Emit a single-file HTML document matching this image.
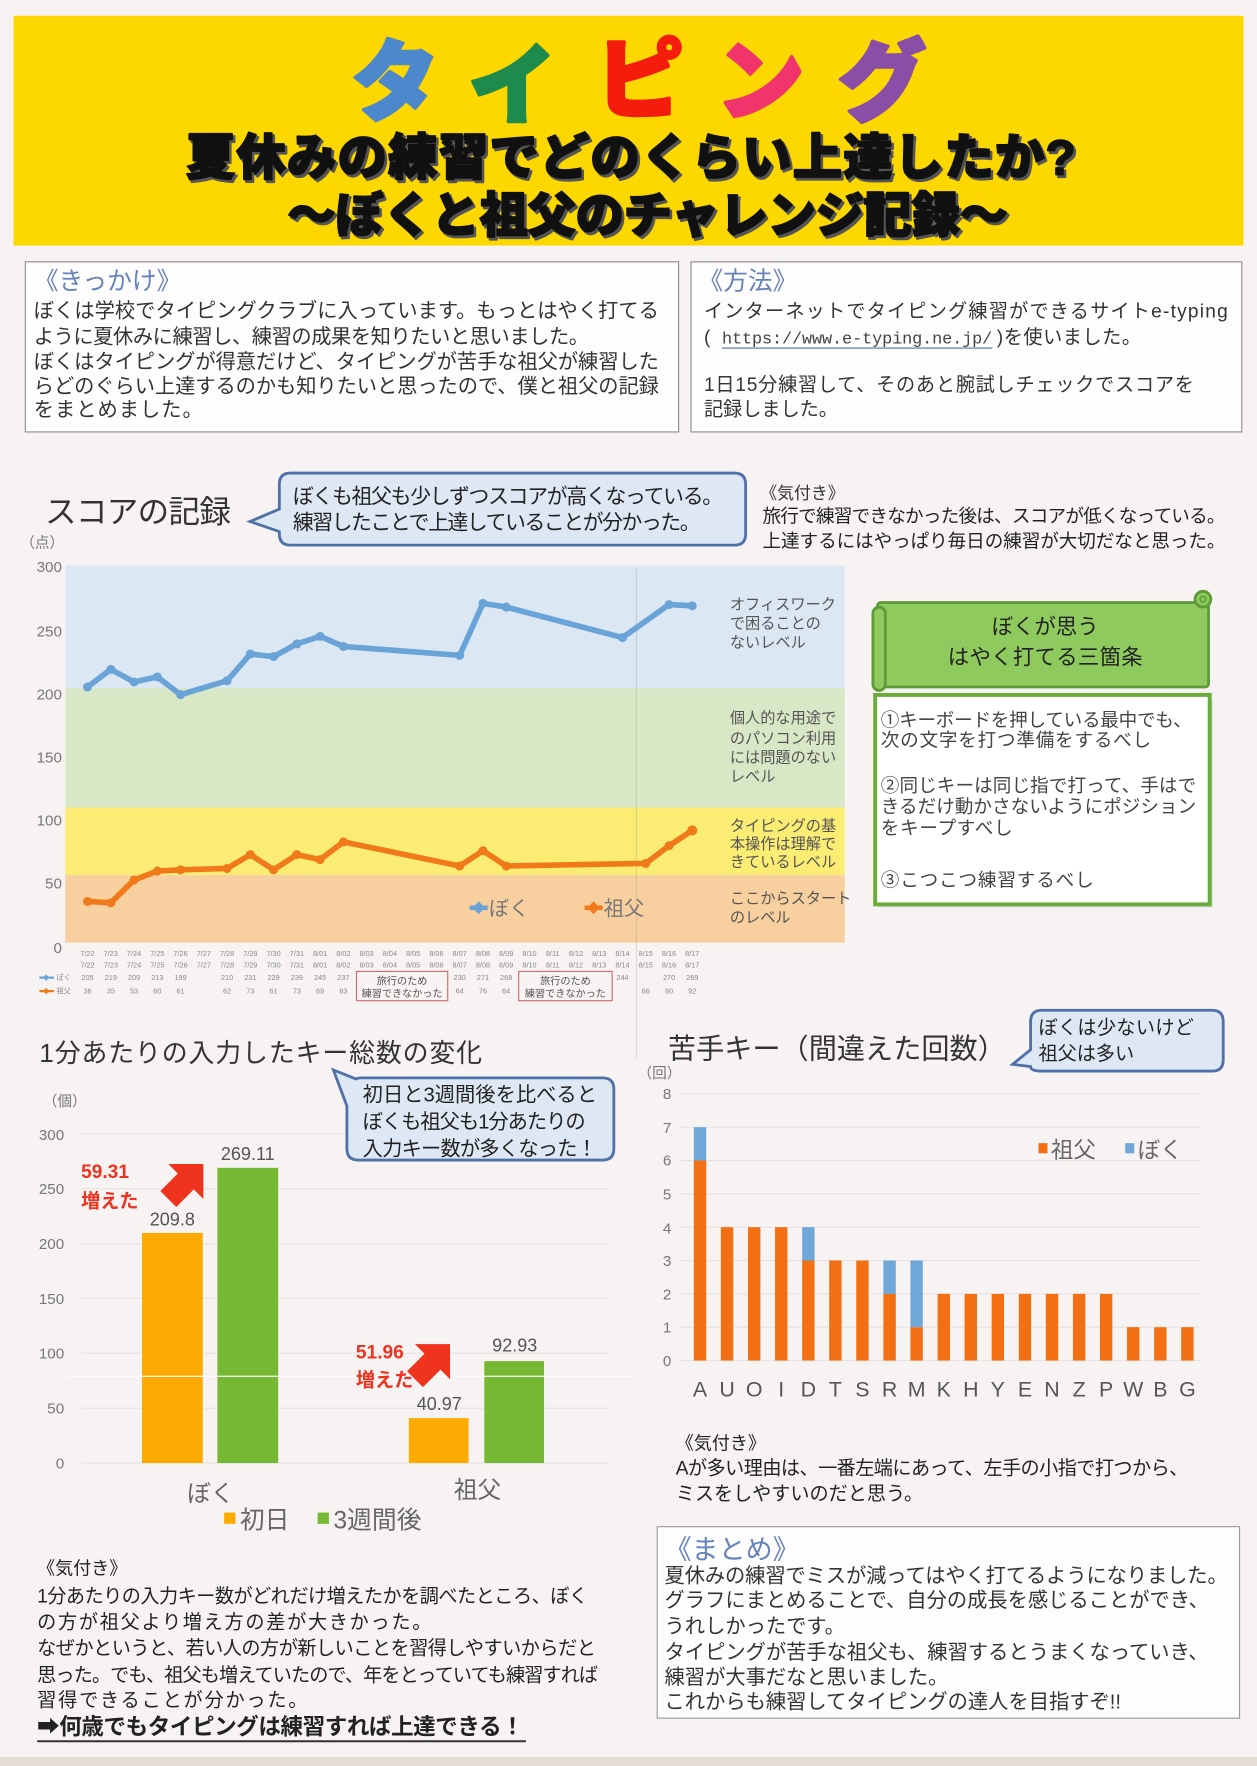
<!DOCTYPE html>
<html><head><meta charset="utf-8"><style>
html,body{margin:0;padding:0;background:#f6f3f2}
body{width:1257px;height:1766px;overflow:hidden}
svg{display:block}
text{font-family:"Liberation Sans","Noto Sans CJK JP","DejaVu Sans",sans-serif}
</style></head><body>
<svg width="1257" height="1766" viewBox="0 0 1116 1568" preserveAspectRatio="none">
<rect x="0" y="0" width="1116" height="1568" fill="#f6f3f2"/>
<rect x="0" y="1560" width="1116" height="8" fill="#e4ddd3"/>

<!-- HEADER -->
<rect x="12" y="14" width="1092" height="204" fill="#fdd700"/>
<g font-size="78" font-weight="900" text-anchor="middle" stroke-width="3" stroke-linejoin="round">
<text x="351" y="101" fill="#4d87cc" stroke="#4d87cc">タ</text>
<text x="455" y="104" fill="#1e8b4c" stroke="#1e8b4c">イ</text>
<text x="568" y="98" fill="#f41c0c" stroke="#f41c0c">ピ</text>
<text x="675" y="100" fill="#f2346c" stroke="#f2346c">ン</text>
<text x="783" y="101" fill="#8b4ea6" stroke="#8b4ea6">グ</text>
</g>
<g font-weight="900" text-anchor="middle" stroke-linejoin="round">
<text x="562" y="157" font-size="44" textLength="790" fill="#555" stroke="#555" stroke-width="2">夏休みの練習でどのくらい上達したか?</text>
<text x="560" y="155" font-size="44" textLength="790" fill="#111" stroke="#111" stroke-width="1.5">夏休みの練習でどのくらい上達したか?</text>
<text x="577" y="208" font-size="43" textLength="640" fill="#555" stroke="#555" stroke-width="2">～ぼくと祖父のチャレンジ記録～</text>
<text x="575" y="206" font-size="43" textLength="640" fill="#111" stroke="#111" stroke-width="1.5">～ぼくと祖父のチャレンジ記録～</text>
</g>

<!-- BOXES -->
<rect x="22.5" y="232.5" width="580" height="151" fill="#fdfdfd" stroke="#8c8c8c"/>
<rect x="613.5" y="232.5" width="489" height="151" fill="#fdfdfd" stroke="#8c8c8c"/>
<text x="30" y="257" font-size="22" fill="#6582b9">《きっかけ》</text>
<g font-size="18" fill="#333">
<text x="30" y="282" textLength="555">ぼくは学校でタイピングクラブに入っています。もっとはやく打てる</text>
<text x="30" y="305" textLength="493">ように夏休みに練習し、練習の成果を知りたいと思いました。</text>
<text x="30" y="327" textLength="555">ぼくはタイピングが得意だけど、タイピングが苦手な祖父が練習した</text>
<text x="30" y="349" textLength="555">らどのぐらい上達するのかも知りたいと思ったので、僕と祖父の記録</text>
<text x="30" y="370" textLength="150">をまとめました。</text>
</g>
<text x="620" y="257" font-size="22" fill="#6582b9">《方法》</text>
<g font-size="17" fill="#333">
<text x="625" y="282" textLength="465">インターネットでタイピング練習ができるサイトe-typing</text>
<text x="625" y="305">(</text>
<text x="641" y="305" font-size="15" textLength="240" style="font-family:'Liberation Mono',monospace" fill="#444">https://www.e-typing.ne.jp/</text>
<line x1="641" y1="309" x2="881" y2="309" stroke="#5570a8" stroke-width="1"/>
<text x="885" y="305" textLength="128">)を使いました。</text>
<text x="625" y="347" textLength="435">1日15分練習して、そのあと腕試しチェックでスコアを</text>
<text x="625" y="369">記録しました。</text>
</g>

<!-- SCORE TITLE / BUBBLE -->
<text x="40" y="464" font-size="28" textLength="165" fill="#333">スコアの記録</text>
<path d="M258,420 H652 Q662,420 662,430 V474 Q662,484 652,484 H258 Q248,484 248,474 V472 L222,463 L248,452 V430 Q248,420 258,420 Z" fill="#dde8f4" stroke="#4f70a8" stroke-width="2.5"/>
<g font-size="18.5" fill="#222">
<text x="260" y="447" textLength="382">ぼくも祖父も少しずつスコアが高くなっている。</text>
<text x="260" y="470" textLength="362">練習したことで上達していることが分かった。</text>
</g>
<text x="675" y="443" font-size="15" fill="#333">《気付き》</text>
<g font-size="16.5" fill="#222">
<text x="677" y="464" textLength="411">旅行で練習できなかった後は、スコアが低くなっている。</text>
<text x="677" y="486" textLength="411">上達するにはやっぱり毎日の練習が大切だなと思った。</text>
</g>

<!-- SCORE CHART -->
<text x="18" y="486" font-size="13" fill="#777">（点）</text>
<rect x="58" y="502" width="692" height="109" fill="#dbe7f3"/>
<rect x="58" y="611" width="692" height="106" fill="#d8e7c6"/>
<rect x="58" y="717" width="692" height="60" fill="#fbec74"/>
<rect x="58" y="777" width="692" height="60" fill="#f8cf9f"/>
<line x1="565" y1="505" x2="565" y2="940" stroke="#8a8a8a" stroke-width="0.8" opacity="0.3"/>
<g font-size="13.5" fill="#777" text-anchor="end">
<text x="55" y="508">300</text>
<text x="55" y="565">250</text>
<text x="55" y="621">200</text>
<text x="55" y="677">150</text>
<text x="55" y="733">100</text>
<text x="55" y="789">50</text>
<text x="55" y="846">0</text>
</g>
<g font-size="13.5" fill="#555">
<text x="648" y="541">オフィスワーク</text>
<text x="648" y="558">で困ることの</text>
<text x="648" y="575">ないレベル</text>
<text x="648" y="642">個人的な用途で</text>
<text x="648" y="660">のパソコン利用</text>
<text x="648" y="677">には問題のない</text>
<text x="648" y="694">レベル</text>
<text x="648" y="738">タイピングの基</text>
<text x="648" y="754">本操作は理解で</text>
<text x="648" y="770">きているレベル</text>
<text x="648" y="802">ここからスタート</text>
<text x="648" y="819">のレベル</text>
</g>
<polyline fill="none" stroke="#6aa3d8" stroke-width="5" stroke-linejoin="round" stroke-linecap="round" points="77.7,610.0 98.4,594.3 119.0,605.5 139.7,601.0 160.3,616.8 201.6,604.4 222.3,580.7 242.9,583.0 263.6,571.7 284.2,565.0 304.9,574.0 408.1,581.9 428.8,535.7 449.4,539.0 552.7,566.1 594.0,536.8 614.6,537.9"/>
<g fill="#6aa3d8">
<circle cx="77.7" cy="610.0" r="4"/><circle cx="98.4" cy="594.3" r="4"/><circle cx="119.0" cy="605.5" r="4"/><circle cx="139.7" cy="601.0" r="4"/><circle cx="160.3" cy="616.8" r="4"/><circle cx="201.6" cy="604.4" r="4"/><circle cx="222.3" cy="580.7" r="4"/><circle cx="242.9" cy="583.0" r="4"/><circle cx="263.6" cy="571.7" r="4"/><circle cx="284.2" cy="565.0" r="4"/><circle cx="304.9" cy="574.0" r="4"/><circle cx="408.1" cy="581.9" r="4"/><circle cx="428.8" cy="535.7" r="4"/><circle cx="449.4" cy="539.0" r="4"/><circle cx="552.7" cy="566.1" r="4"/><circle cx="594.0" cy="536.8" r="4"/><circle cx="614.6" cy="537.9" r="4"/>
</g>
<polyline fill="none" stroke="#f07a1a" stroke-width="5" stroke-linejoin="round" stroke-linecap="round" points="77.7,800.4 98.4,801.6 119.0,781.3 139.7,773.4 160.3,772.3 201.6,771.1 222.3,758.8 242.9,772.3 263.6,758.8 284.2,763.3 304.9,747.5 408.1,768.9 428.8,755.4 449.4,768.9 573.3,766.6 594.0,750.9 614.6,737.3"/>
<g fill="#f07a1a">
<circle cx="77.7" cy="800.4" r="4"/><circle cx="98.4" cy="801.6" r="4"/><circle cx="119.0" cy="781.3" r="4"/><circle cx="139.7" cy="773.4" r="4"/><circle cx="160.3" cy="772.3" r="4"/><circle cx="201.6" cy="771.1" r="4"/><circle cx="222.3" cy="758.8" r="4"/><circle cx="242.9" cy="772.3" r="4"/><circle cx="263.6" cy="758.8" r="4"/><circle cx="284.2" cy="763.3" r="4"/><circle cx="304.9" cy="747.5" r="4"/><circle cx="408.1" cy="768.9" r="4"/><circle cx="428.8" cy="755.4" r="4"/><circle cx="449.4" cy="768.9" r="4"/><circle cx="573.3" cy="766.6" r="4"/><circle cx="594.0" cy="750.9" r="4"/><circle cx="614.6" cy="737.3" r="4.5"/>
</g>
<!-- legend in chart -->
<line x1="417" y1="806" x2="433" y2="806" stroke="#6aa3d8" stroke-width="4"/>
<rect x="421" y="802" width="8" height="8" fill="#6aa3d8" transform="rotate(45 425 806)"/>
<text x="434" y="813" font-size="18" fill="#777">ぼく</text>
<line x1="519" y1="806" x2="535" y2="806" stroke="#f07a1a" stroke-width="4"/>
<rect x="523" y="802" width="8" height="8" fill="#f07a1a" transform="rotate(45 527 806)"/>
<text x="536" y="813" font-size="18" fill="#777">祖父</text>

<!-- TABLE -->
<g font-size="6.5" fill="#888" text-anchor="middle">
<text y="849"><tspan x="77.7">7/22</tspan><tspan x="98.4">7/23</tspan><tspan x="119.0">7/24</tspan><tspan x="139.7">7/25</tspan><tspan x="160.3">7/26</tspan><tspan x="181.0">7/27</tspan><tspan x="201.6">7/28</tspan><tspan x="222.3">7/29</tspan><tspan x="242.9">7/30</tspan><tspan x="263.6">7/31</tspan><tspan x="284.2">8/01</tspan><tspan x="304.9">8/02</tspan><tspan x="325.5">8/03</tspan><tspan x="346.2">8/04</tspan><tspan x="366.8">8/05</tspan><tspan x="387.5">8/06</tspan><tspan x="408.1">8/07</tspan><tspan x="428.8">8/08</tspan><tspan x="449.4">8/09</tspan><tspan x="470.1">8/10</tspan><tspan x="490.7">8/11</tspan><tspan x="511.4">8/12</tspan><tspan x="532.0">8/13</tspan><tspan x="552.7">8/14</tspan><tspan x="573.3">8/15</tspan><tspan x="594.0">8/16</tspan><tspan x="614.6">8/17</tspan></text>
<text y="859"><tspan x="77.7">7/22</tspan><tspan x="98.4">7/23</tspan><tspan x="119.0">7/24</tspan><tspan x="139.7">7/25</tspan><tspan x="160.3">7/26</tspan><tspan x="181.0">7/27</tspan><tspan x="201.6">7/28</tspan><tspan x="222.3">7/29</tspan><tspan x="242.9">7/30</tspan><tspan x="263.6">7/31</tspan><tspan x="284.2">8/01</tspan><tspan x="304.9">8/02</tspan><tspan x="325.5">8/03</tspan><tspan x="346.2">8/04</tspan><tspan x="366.8">8/05</tspan><tspan x="387.5">8/06</tspan><tspan x="408.1">8/07</tspan><tspan x="428.8">8/08</tspan><tspan x="449.4">8/09</tspan><tspan x="470.1">8/10</tspan><tspan x="490.7">8/11</tspan><tspan x="511.4">8/12</tspan><tspan x="532.0">8/13</tspan><tspan x="552.7">8/14</tspan><tspan x="573.3">8/15</tspan><tspan x="594.0">8/16</tspan><tspan x="614.6">8/17</tspan></text>
<text y="870"><tspan x="77.7">205</tspan><tspan x="98.4">219</tspan><tspan x="119.0">209</tspan><tspan x="139.7">213</tspan><tspan x="160.3">199</tspan><tspan x="201.6">210</tspan><tspan x="222.3">231</tspan><tspan x="242.9">229</tspan><tspan x="263.6">239</tspan><tspan x="284.2">245</tspan><tspan x="304.9">237</tspan><tspan x="408.1">230</tspan><tspan x="428.8">271</tspan><tspan x="449.4">268</tspan><tspan x="552.7">244</tspan><tspan x="594.0">270</tspan><tspan x="614.6">269</tspan></text>
<text y="882"><tspan x="77.7">36</tspan><tspan x="98.4">35</tspan><tspan x="119.0">53</tspan><tspan x="139.7">60</tspan><tspan x="160.3">61</tspan><tspan x="201.6">62</tspan><tspan x="222.3">73</tspan><tspan x="242.9">61</tspan><tspan x="263.6">73</tspan><tspan x="284.2">69</tspan><tspan x="304.9">83</tspan><tspan x="408.1">64</tspan><tspan x="428.8">76</tspan><tspan x="449.4">64</tspan><tspan x="573.3">66</tspan><tspan x="594.0">80</tspan><tspan x="614.6">92</tspan></text>
</g>
<line x1="35" y1="868" x2="48" y2="868" stroke="#6aa3d8" stroke-width="2"/>
<rect x="39" y="866" width="4" height="4" fill="#6aa3d8" transform="rotate(45 41 868)"/>
<text x="50" y="870" font-size="6.5" fill="#888">ぼく</text>
<line x1="35" y1="880" x2="48" y2="880" stroke="#f07a1a" stroke-width="2"/>
<rect x="39" y="878" width="4" height="4" fill="#f07a1a" transform="rotate(45 41 880)"/>
<text x="50" y="882" font-size="6.5" fill="#888">祖父</text>
<rect x="316.5" y="862.5" width="81" height="26" fill="#f7f4f3" stroke="#d06868" stroke-width="1"/>
<rect x="460.5" y="862.5" width="83" height="26" fill="#f7f4f3" stroke="#d06868" stroke-width="1"/>
<g font-size="9" fill="#555" text-anchor="middle">
<text x="357" y="874">旅行のため</text>
<text x="357" y="885">練習できなかった</text>
<text x="502" y="874">旅行のため</text>
<text x="502" y="885">練習できなかった</text>
</g>

<!-- SCROLL -->
<rect x="779" y="535" width="294" height="75" rx="3" fill="#8fca5e" stroke="#5e9a38" stroke-width="2.5"/>
<circle cx="1068" cy="532" r="7" fill="#8fca5e" stroke="#5e9a38" stroke-width="2.5"/>
<circle cx="1068" cy="532" r="2.5" fill="none" stroke="#5e9a38" stroke-width="1.5"/>
<rect x="775" y="539" width="11" height="74" rx="5.5" fill="#8fca5e" stroke="#5e9a38" stroke-width="2.5"/>
<g font-size="19" fill="#222" text-anchor="middle">
<text x="928" y="563">ぼくが思う</text>
<text x="928" y="590" textLength="173">はやく打てる三箇条</text>
</g>
<rect x="780" y="620" width="297" height="186" fill="#d6d3d0" opacity="0.6"/>
<rect x="777" y="617" width="297" height="186" fill="#ffffff" stroke="#6aab3b" stroke-width="3.5"/>
<g font-size="16.5" fill="#444">
<text x="782" y="645" textLength="276">①キーボードを押している最中でも、</text>
<text x="782" y="663" textLength="240">次の文字を打つ準備をするべし</text>
<text x="782" y="703" textLength="280">②同じキーは同じ指で打って、手はで</text>
<text x="782" y="722" textLength="280">きるだけ動かさないようにポジション</text>
<text x="782" y="741" textLength="117">をキープすべし</text>
<text x="782" y="787" textLength="189">③こつこつ練習するべし</text>
</g>

<!-- BAR CHART -->
<text x="35" y="943" font-size="23" textLength="393" fill="#333">1分あたりの入力したキー総数の変化</text>
<text x="38" y="982" font-size="13" fill="#777">（個）</text>
<g stroke="#e6e3e1" stroke-width="1">
<line x1="72" y1="1006.8" x2="540" y2="1006.8"/>
<line x1="72" y1="1055.5" x2="540" y2="1055.5"/>
<line x1="72" y1="1104.2" x2="540" y2="1104.2"/>
<line x1="72" y1="1152.9" x2="540" y2="1152.9"/>
<line x1="72" y1="1201.6" x2="540" y2="1201.6"/>
<line x1="72" y1="1250.3" x2="540" y2="1250.3"/>
<line x1="72" y1="1299" x2="540" y2="1299"/>
</g>
<g font-size="13.5" fill="#777" text-anchor="end">
<text x="57" y="1012">300</text>
<text x="57" y="1060">250</text>
<text x="57" y="1109">200</text>
<text x="57" y="1158">150</text>
<text x="57" y="1206">100</text>
<text x="57" y="1255">50</text>
<text x="57" y="1304">0</text>
</g>
<rect x="126" y="1094.7" width="54" height="204.3" fill="#fdaa02"/>
<rect x="193" y="1036.9" width="54" height="262.1" fill="#76b733"/>
<rect x="363" y="1259.1" width="53" height="39.9" fill="#fdaa02"/>
<rect x="430" y="1208.5" width="53" height="90.5" fill="#76b733"/>
<line x1="60" y1="1222" x2="560" y2="1222" stroke="#ffffff" stroke-width="1.2" opacity="0.85"/>
<g font-size="16" fill="#555" text-anchor="middle">
<text x="153" y="1088">209.8</text>
<text x="220" y="1030">269.11</text>
<text x="390" y="1252">40.97</text>
<text x="457" y="1200">92.93</text>
</g>
<g font-size="17" font-weight="700" fill="#ec3320">
<text x="72" y="1046">59.31</text>
<text x="72" y="1072">増えた</text>
<text x="316" y="1206">51.96</text>
<text x="316" y="1231">増えた</text>
</g>
<polygon points="-22,-10 0,-10 0,-22 22,0 0,22 0,10 -22,10" fill="#f0331c" transform="translate(165,1049) rotate(-45)"/>
<polygon points="-22,-10 0,-10 0,-22 22,0 0,22 0,10 -22,10" fill="#f0331c" transform="translate(384,1209) rotate(-45)"/>
<g font-size="21" fill="#666" text-anchor="middle">
<text x="187" y="1333">ぼく</text>
<text x="424" y="1330">祖父</text>
</g>
<rect x="199" y="1343" width="10" height="10" fill="#fdaa02"/>
<text x="213" y="1357" font-size="22" fill="#666">初日</text>
<rect x="282" y="1343" width="10" height="10" fill="#76b733"/>
<text x="296" y="1357" font-size="22" fill="#666">3週間後</text>
<path d="M320,957 H535 Q545,957 545,967 V1020 Q545,1030 535,1030 H318 Q308,1030 308,1020 V982 L296,950 L316,958 Q318,957 320,957 Z" fill="#dde8f4" stroke="#4f70a8" stroke-width="2.5"/>
<g font-size="18" fill="#222">
<text x="322" y="978" textLength="208">初日と3週間後を比べると</text>
<text x="322" y="1002" textLength="198">ぼくも祖父も1分あたりの</text>
<text x="322" y="1026" textLength="208">入力キー数が多くなった！</text>
</g>

<!-- KEYS CHART -->
<text x="593" y="940" font-size="25" textLength="300" fill="#333">苦手キー（間違えた回数）</text>
<path d="M925,897 H1076 Q1086,897 1086,907 V941 Q1086,951 1076,951 H925 Q915,951 915,947 L899,945 L915,932 V907 Q915,897 925,897 Z" fill="#dde8f4" stroke="#4f70a8" stroke-width="2.5"/>
<g font-size="17" fill="#222">
<text x="922" y="918" textLength="138">ぼくは少ないけど</text>
<text x="922" y="941">祖父は多い</text>
</g>
<text x="566" y="957" font-size="13" fill="#777">（回）</text>
<g stroke="#e6e3e1" stroke-width="1">
<line x1="603" y1="971.2" x2="1066" y2="971.2"/>
<line x1="603" y1="1000.8" x2="1066" y2="1000.8"/>
<line x1="603" y1="1030.4" x2="1066" y2="1030.4"/>
<line x1="603" y1="1060" x2="1066" y2="1060"/>
<line x1="603" y1="1089.6" x2="1066" y2="1089.6"/>
<line x1="603" y1="1119.2" x2="1066" y2="1119.2"/>
<line x1="603" y1="1148.8" x2="1066" y2="1148.8"/>
<line x1="603" y1="1178.4" x2="1066" y2="1178.4"/>
<line x1="603" y1="1208" x2="1066" y2="1208"/>
</g>
<g font-size="13.5" fill="#777" text-anchor="end">
<text x="596" y="976">8</text>
<text x="596" y="1006">7</text>
<text x="596" y="1035">6</text>
<text x="596" y="1065">5</text>
<text x="596" y="1095">4</text>
<text x="596" y="1124">3</text>
<text x="596" y="1154">2</text>
<text x="596" y="1183">1</text>
<text x="596" y="1213">0</text>
</g>
<g fill="#f36f13">
<rect x="616.0" y="1030.4" width="11" height="177.6"/>
<rect x="640.0" y="1089.6" width="11" height="118.4"/>
<rect x="664.1" y="1089.6" width="11" height="118.4"/>
<rect x="688.1" y="1089.6" width="11" height="118.4"/>
<rect x="712.2" y="1119.2" width="11" height="88.8"/>
<rect x="736.2" y="1119.2" width="11" height="88.8"/>
<rect x="760.2" y="1119.2" width="11" height="88.8"/>
<rect x="784.3" y="1148.8" width="11" height="59.2"/>
<rect x="808.3" y="1178.4" width="11" height="29.6"/>
<rect x="832.4" y="1148.8" width="11" height="59.2"/>
<rect x="856.4" y="1148.8" width="11" height="59.2"/>
<rect x="880.4" y="1148.8" width="11" height="59.2"/>
<rect x="904.5" y="1148.8" width="11" height="59.2"/>
<rect x="928.5" y="1148.8" width="11" height="59.2"/>
<rect x="952.6" y="1148.8" width="11" height="59.2"/>
<rect x="976.6" y="1148.8" width="11" height="59.2"/>
<rect x="1000.6" y="1178.4" width="11" height="29.6"/>
<rect x="1024.7" y="1178.4" width="11" height="29.6"/>
<rect x="1048.7" y="1178.4" width="11" height="29.6"/>
</g>
<g fill="#6fa7d8">
<rect x="616.0" y="1000.8" width="11" height="29.6"/>
<rect x="712.2" y="1089.6" width="11" height="29.6"/>
<rect x="784.3" y="1119.2" width="11" height="29.6"/>
<rect x="808.3" y="1119.2" width="11" height="59.2"/>
</g>
<g font-size="19" fill="#555" text-anchor="middle">
<text y="1240"><tspan x="621.5">A</tspan><tspan x="645.5">U</tspan><tspan x="669.6">O</tspan><tspan x="693.6">I</tspan><tspan x="717.7">D</tspan><tspan x="741.7">T</tspan><tspan x="765.7">S</tspan><tspan x="789.8">R</tspan><tspan x="813.8">M</tspan><tspan x="837.9">K</tspan><tspan x="861.9">H</tspan><tspan x="885.9">Y</tspan><tspan x="910.0">E</tspan><tspan x="934.0">N</tspan><tspan x="958.1">Z</tspan><tspan x="982.1">P</tspan><tspan x="1006.1">W</tspan><tspan x="1030.2">B</tspan><tspan x="1054.2">G</tspan></text>
</g>
<rect x="922" y="1015" width="8" height="9" fill="#f36f13"/>
<text x="933" y="1028" font-size="20" fill="#666">祖父</text>
<rect x="999" y="1015" width="8" height="9" fill="#6fa7d8"/>
<text x="1010" y="1028" font-size="20" fill="#666">ぼく</text>

<!-- RIGHT NOTES -->
<text x="600" y="1287" font-size="16" fill="#222">《気付き》</text>
<g font-size="17" fill="#222">
<text x="600" y="1309" textLength="455">Aが多い理由は、一番左端にあって、左手の小指で打つから、</text>
<text x="600" y="1332">ミスをしやすいのだと思う。</text>
</g>
<rect x="583.5" y="1355.5" width="517" height="170" fill="#fdfdfd" stroke="#9a9a9a"/>
<text x="590" y="1384" font-size="24" fill="#6582b9">《まとめ》</text>
<g font-size="18" fill="#333">
<text x="590" y="1405" textLength="500">夏休みの練習でミスが減ってはやく打てるようになりました。</text>
<text x="590" y="1427">グラフにまとめることで、自分の成長を感じることができ、</text>
<text x="590" y="1450">うれしかったです。</text>
<text x="590" y="1473">タイピングが苦手な祖父も、練習するとうまくなっていき、</text>
<text x="590" y="1495">練習が大事だなと思いました。</text>
<text x="590" y="1517">これからも練習してタイピングの達人を目指すぞ!!</text>
</g>

<!-- LEFT NOTES -->
<text x="33" y="1398" font-size="16" fill="#222">《気付き》</text>
<g font-size="17" fill="#222">
<text x="33" y="1423" textLength="489">1分あたりの入力キー数がどれだけ増えたかを調べたところ、ぼく</text>
<text x="33" y="1446" textLength="350">の方が祖父より増え方の差が大きかった。</text>
<text x="33" y="1469" textLength="496">なぜかというと、若い人の方が新しいことを習得しやすいからだと</text>
<text x="33" y="1493" textLength="498">思った。でも、祖父も増えていたので、年をとっていても練習すれば</text>
<text x="33" y="1515" textLength="240">習得できることが分かった。</text>
</g>
<text x="33" y="1540" font-size="20" font-weight="700" textLength="432" fill="#222">➡何歳でもタイピングは練習すれば上達できる！</text>
<line x1="33" y1="1546" x2="467" y2="1546" stroke="#333" stroke-width="1.8"/>
</svg>
</body></html>
